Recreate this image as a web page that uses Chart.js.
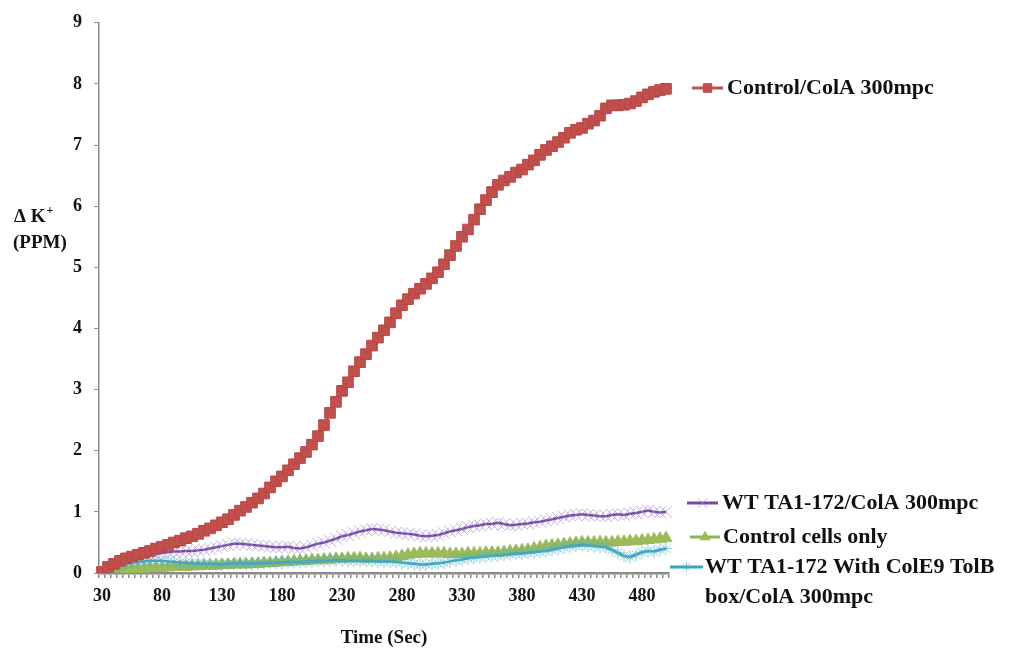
<!DOCTYPE html>
<html>
<head>
<meta charset="utf-8">
<script src="https://cdn.jsdelivr.net/npm/chart.js@4/dist/chart.umd.min.js"></script>
<style>
  body { margin: 0; background: #fff; }
  #wrap { width: 1019px; height: 651px; }
</style>
</head>
<body>
<div id="wrap"><canvas id="myChart" width="1019" height="651"></canvas></div>
<script>
// Tiempos (segundos), una categoria cada 5 s
const times = [
  30, 35, 40, 45, 50, 55, 60, 65, 70, 75,
  80, 85, 90, 95, 100, 105, 110, 115, 120, 125,
  130, 135, 140, 145, 150, 155, 160, 165, 170, 175,
  180, 185, 190, 195, 200, 205, 210, 215, 220, 225,
  230, 235, 240, 245, 250, 255, 260, 265, 270, 275,
  280, 285, 290, 295, 300, 305, 310, 315, 320, 325,
  330, 335, 340, 345, 350, 355, 360, 365, 370, 375,
  380, 385, 390, 395, 400, 405, 410, 415, 420, 425,
  430, 435, 440, 445, 450, 455, 460, 465, 470, 475,
  480, 485, 490, 495, 500
];

const controlColA = [
  0.02, 0.1, 0.15, 0.2, 0.24, 0.27, 0.3, 0.33, 0.36, 0.4,
  0.43, 0.46, 0.5, 0.53, 0.57, 0.6, 0.64, 0.69, 0.73, 0.78,
  0.83, 0.88, 0.95, 1.02, 1.08, 1.15, 1.22, 1.3, 1.4, 1.5,
  1.58, 1.68, 1.78, 1.88, 1.98, 2.1, 2.24, 2.42, 2.62, 2.8,
  2.98, 3.12, 3.3, 3.45, 3.58, 3.72, 3.85, 3.97, 4.1, 4.25,
  4.38, 4.48, 4.57, 4.65, 4.73, 4.82, 4.92, 5.05, 5.2, 5.35,
  5.5, 5.62, 5.78, 5.95, 6.1, 6.23, 6.35, 6.42, 6.48, 6.55,
  6.6, 6.68, 6.75, 6.84, 6.92, 6.98, 7.05, 7.12, 7.2, 7.25,
  7.28, 7.35, 7.4, 7.48, 7.6, 7.65, 7.65, 7.66, 7.68, 7.72,
  7.78, 7.83, 7.87, 7.9, 7.92
];

const wtColA = [
  0.0, 0.05, 0.1, 0.14, 0.18, 0.21, 0.24, 0.27, 0.29, 0.31,
  0.33, 0.34, 0.35, 0.35, 0.36, 0.36, 0.37, 0.38, 0.4, 0.42,
  0.44, 0.46, 0.48, 0.48, 0.47, 0.46, 0.45, 0.44, 0.43, 0.42,
  0.42, 0.43, 0.41, 0.4, 0.42, 0.45, 0.48, 0.5, 0.53, 0.56,
  0.6, 0.62, 0.65, 0.68, 0.7, 0.72, 0.71, 0.7, 0.68, 0.66,
  0.65, 0.64, 0.63, 0.61, 0.6, 0.61, 0.62, 0.65, 0.68, 0.7,
  0.72, 0.75, 0.77, 0.78, 0.8, 0.8, 0.82, 0.8, 0.78, 0.79,
  0.8, 0.81, 0.83, 0.84, 0.86, 0.88, 0.9, 0.92, 0.94, 0.95,
  0.96, 0.95, 0.94, 0.93, 0.93, 0.95, 0.96, 0.95, 0.97, 0.98,
  1.0, 1.02, 1.0, 0.99, 1.0
];

const controlCells = [
  0.0, 0.02, 0.04, 0.05, 0.06, 0.06, 0.07, 0.07, 0.08, 0.08,
  0.08, 0.09, 0.1, 0.1, 0.1, 0.11, 0.11, 0.12, 0.12, 0.12,
  0.13, 0.13, 0.14, 0.14, 0.14, 0.15, 0.15, 0.16, 0.16, 0.17,
  0.18, 0.18, 0.19, 0.2, 0.2, 0.21, 0.21, 0.22, 0.22, 0.23,
  0.23, 0.24, 0.24, 0.24, 0.23, 0.23, 0.24, 0.24, 0.25, 0.26,
  0.28, 0.3, 0.31, 0.32, 0.32, 0.32, 0.32, 0.32, 0.31, 0.31,
  0.31, 0.32, 0.32, 0.32, 0.33, 0.33, 0.33, 0.34, 0.35, 0.36,
  0.37, 0.38, 0.4, 0.42, 0.44, 0.45, 0.46, 0.47, 0.48, 0.49,
  0.5, 0.5, 0.5, 0.5, 0.5, 0.5, 0.51, 0.51, 0.52, 0.52,
  0.53, 0.54, 0.55, 0.56, 0.57
];

const wtTolB = [
  0.0, 0.05, 0.09, 0.12, 0.15, 0.17, 0.18, 0.19, 0.2, 0.2,
  0.2, 0.19, 0.18, 0.17, 0.17, 0.16, 0.16, 0.15, 0.15, 0.15,
  0.14, 0.15, 0.15, 0.16, 0.15, 0.15, 0.16, 0.16, 0.17, 0.17,
  0.17, 0.18, 0.18, 0.18, 0.19, 0.19, 0.2, 0.2, 0.2, 0.21,
  0.21, 0.2, 0.2, 0.2, 0.2, 0.2, 0.19, 0.19, 0.19, 0.18,
  0.17, 0.16, 0.15, 0.14, 0.14, 0.15, 0.16, 0.17, 0.19, 0.21,
  0.22, 0.24, 0.25, 0.26, 0.27, 0.28, 0.29, 0.3, 0.31, 0.32,
  0.32, 0.33, 0.34, 0.35, 0.36, 0.38, 0.4, 0.42, 0.44, 0.45,
  0.46, 0.45, 0.44, 0.43, 0.42, 0.38, 0.33, 0.28, 0.26, 0.3,
  0.34, 0.36, 0.35, 0.38, 0.4
];

const yTicks = [0, 1, 2, 3, 4, 5, 6, 7, 8, 9];

const seriesNames = [
  ["Control/ColA 300mpc"],
  ["WT TA1-172/ColA 300mpc"],
  ["Control cells only"],
  ["WT TA1-172 With ColE9 TolB", "box/ColA 300mpc"]
];

const serif = '"Liberation Serif", "Times New Roman", serif';

// Leyenda colocada a mano a la derecha, como en la figura original
const sideLegend = {
  id: "sideLegend",
  afterDraw(chart) {
    const ctx = chart.ctx;
    const spots = [
      { x0: 692, x1: 723, y: 88, tx: 727 },
      { x0: 687, x1: 718, y: 503, tx: 722 },
      { x0: 690, x1: 720, y: 537, tx: 723 },
      { x0: 670, x1: 703, y: 567, tx: 705 }
    ];
    ctx.save();
    chart.data.datasets.forEach((ds, i) => {
      const s = spots[i];
      ctx.strokeStyle = ds.borderColor;
      ctx.lineWidth = 3;
      ctx.beginPath();
      ctx.moveTo(s.x0, s.y);
      ctx.lineTo(s.x1, s.y);
      ctx.stroke();
      ctx.fillStyle = ds.pointBackgroundColor;
      ctx.strokeStyle = ds.pointBorderColor;
      ctx.lineWidth = ds.pointBorderWidth;
      Chart.helpers.drawPoint(ctx, { pointStyle: ds.pointStyle, radius: ds.pointRadius * 0.8, borderWidth: ds.pointBorderWidth }, (s.x0 + s.x1) / 2, s.y);
      ctx.fillStyle = "#111";
      ctx.font = "bold 22px " + serif;
      ctx.textBaseline = "middle";
      ctx.textAlign = "left";
      seriesNames[i].forEach((line, k) => {
        ctx.fillText(line, s.tx, s.y + k * 30);
      });
    });

    // Titulo del eje Y en horizontal
    ctx.fillStyle = "#111";
    ctx.font = "bold 19px " + serif;
    ctx.textBaseline = "middle";
    ctx.fillText("\u0394 K", 14, 217);
    const w = ctx.measureText("\u0394 K").width;
    ctx.font = "bold 12px " + serif;
    ctx.fillText("+", 14 + w + 1, 211);
    ctx.font = "bold 19px " + serif;
    ctx.fillText("(PPM)", 13, 243);
    ctx.restore();
  }
};

function generateChart() {
  const ctx = document.getElementById("myChart").getContext("2d");
  new Chart(ctx, {
    type: "line",
    data: {
      labels: times,
      datasets: [
        {
          label: seriesNames[0].join(" "),
          data: controlColA,
          borderColor: "#C0504D",
          borderWidth: 2.5,
          pointStyle: "rect",
          pointRadius: 7.5,
          pointBorderWidth: 1,
          pointBackgroundColor: "#C0504D",
          pointBorderColor: "#BC4542",
          order: 0
        },
        {
          label: seriesNames[1].join(" "),
          data: wtColA,
          borderColor: "#7448A8",
          borderWidth: 2.5,
          pointStyle: "crossRot",
          pointRadius: 8.5,
          pointBorderWidth: 1,
          pointBackgroundColor: "rgba(160,130,200,0.65)",
          pointBorderColor: "rgba(160,130,200,0.65)",
          order: 3
        },
        {
          label: seriesNames[2].join(" "),
          data: controlCells,
          borderColor: "#8DB44A",
          borderWidth: 2.5,
          pointStyle: "triangle",
          pointRadius: 7,
          pointBorderWidth: 1,
          pointBackgroundColor: "#9BBB59",
          pointBorderColor: "#9BBB59",
          order: 2
        },
        {
          label: seriesNames[3].join(" "),
          data: wtTolB,
          borderColor: "#35A3C4",
          borderWidth: 2.5,
          pointStyle: "star",
          pointRadius: 6.5,
          pointBorderWidth: 1,
          pointBackgroundColor: "rgba(75,172,198,0.6)",
          pointBorderColor: "rgba(75,172,198,0.6)",
          order: 1
        }
      ]
    },
    options: {
      responsive: false,
      animation: false,
      devicePixelRatio: 1,
      layout: { padding: { left: 0, right: 350, top: 20, bottom: 0 } },
      plugins: {
        legend: { display: false },
        tooltip: { enabled: false }
      },
      scales: {
        x: {
          type: "category",
          offset: true,
          afterFit: (scale) => { scale.height = 78; },
          grid: {
            drawOnChartArea: false,
            drawTicks: true,
            tickLength: 5,
            color: "#8a8a8a",
            lineWidth: 1.5,
            offset: true
          },
          border: { color: "#8a8a8a", width: 2.5 },
          ticks: {
            autoSkip: false,
            maxRotation: 0,
            padding: 8,
            color: "#111",
            font: { family: serif, size: 18, weight: "bold" },
            callback: function (value, index) {
              return index % 10 === 0 ? this.getLabelForValue(value) : "";
            }
          },
          title: {
            display: true,
            text: "Time (Sec)",
            color: "#111",
            font: { family: serif, size: 19, weight: "bold" },
            padding: { top: 0, bottom: 2 }
          }
        },
        y: {
          min: 0,
          max: 9,
          afterFit: (scale) => { scale.width = 99; },
          afterBuildTicks: (scale) => { scale.ticks = yTicks.map((v) => ({ value: v })); },
          grid: {
            drawOnChartArea: false,
            drawTicks: true,
            tickLength: 5,
            color: "#8a8a8a"
          },
          border: { color: "#8a8a8a", width: 1.5 },
          ticks: {
            padding: 12,
            color: "#111",
            font: { family: serif, size: 18, weight: "bold" }
          }
        }
      }
    },
    plugins: [sideLegend]
  });
}

generateChart();
</script>
</body>
</html>
